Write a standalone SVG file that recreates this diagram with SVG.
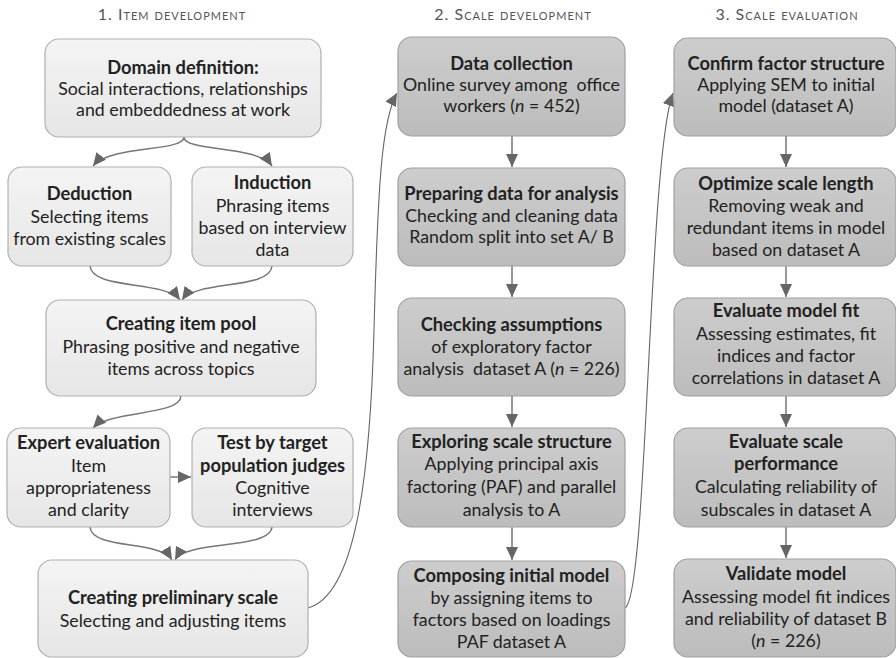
<svg xmlns="http://www.w3.org/2000/svg" width="896" height="658" viewBox="0 0 896 658">
  <defs>
    <linearGradient id="gLight" x1="0" y1="0" x2="0" y2="1">
      <stop offset="0" stop-color="#f4f4f4"/>
      <stop offset="1" stop-color="#e6e6e6"/>
    </linearGradient>
    <linearGradient id="gDark" x1="0" y1="0" x2="0" y2="1">
      <stop offset="0" stop-color="#cdcdcd"/>
      <stop offset="1" stop-color="#bcbcbc"/>
    </linearGradient>
    <marker id="arrow" markerUnits="userSpaceOnUse" markerWidth="14" markerHeight="12" refX="13" refY="6" orient="auto">
      <path d="M0,0 L13,6 L0,12 Z" fill="#666"/>
    </marker>
  </defs>
  <style>
    text { font-family: Lato, "Open Sans", "Liberation Sans", sans-serif; fill: #222; text-anchor: middle; }
    .head { font-size: 16px; fill: #555; font-variant: small-caps; letter-spacing: 1px; }
    .t { font-size: 18.3px; font-weight: bold; }
    .s { font-size: 17.8px; }
    .light { fill: url(#gLight); stroke: #b0b0b0; stroke-width: 1.2; }
    .dark { fill: url(#gDark); stroke: #a0a0a0; stroke-width: 1.2; }
    .conn { fill: none; stroke: #777; stroke-width: 1.5; marker-end: url(#arrow); }
    .long { fill: none; stroke: #666; stroke-width: 1.1; marker-end: url(#arrow); }
  </style>

  <!-- column headings -->
  <text class="head" x="172" y="20">1. Item development</text>
  <text class="head" x="513" y="20">2. Scale development</text>
  <text class="head" x="787" y="20">3. Scale evaluation</text>

  <!-- connectors -->
  <g id="connectors">
    <path class="conn" d="M184 137 C 184 152, 110 145, 93 166"/>
    <path class="conn" d="M184 137 C 184 152, 258 145, 272 166"/>
    <path class="conn" d="M90 266 C 92 290, 165 280, 180 300"/>
    <path class="conn" d="M272 266 C 270 290, 196 280, 182 300"/>
    <path class="conn" d="M181 396 C 180 416, 110 410, 93 428"/>
    <path class="conn" d="M170 477 L 191 477"/>
    <path class="conn" d="M90 527 C 92 550, 160 540, 172 560"/>
    <path class="conn" d="M272 527 C 270 550, 186 540, 175 560"/>
    <path class="long" d="M308 608 C 355 595, 370 480, 374 330 S 382 120, 397 93"/>
    <path class="long" d="M625 608 C 648 595, 648 160, 673 93"/>
    <path class="conn" d="M512 136 L 512 167"/>
    <path class="conn" d="M512 266 L 512 297"/>
    <path class="conn" d="M512 396 L 512 427"/>
    <path class="conn" d="M512 527 L 512 560"/>
    <path class="conn" d="M786 136 L 786 167"/>
    <path class="conn" d="M786 266 L 786 297"/>
    <path class="conn" d="M786 396 L 786 427"/>
    <path class="conn" d="M786 527 L 786 558"/>
  </g>

  <!-- 1. item development -->
  <g id="domain">
    <rect class="light" x="45" y="39" width="276" height="98" rx="14"/>
    <text class="t" x="183" y="74">Domain definition:</text>
    <text class="s" x="183" y="95">Social interactions, relationships</text>
    <text class="s" x="183" y="116">and embeddedness at work</text>
  </g>
  <g id="deduction">
    <rect class="light" x="8" y="167" width="163" height="99" rx="14"/>
    <text class="t" x="89.5" y="200">Deduction</text>
    <text class="s" x="89.5" y="223">Selecting items</text>
    <text class="s" x="89.5" y="245">from existing scales</text>
  </g>
  <g id="induction">
    <rect class="light" x="192" y="167" width="161" height="99" rx="14"/>
    <text class="t" x="272.5" y="189">Induction</text>
    <text class="s" x="272.5" y="212">Phrasing items</text>
    <text class="s" x="272.5" y="234">based on interview</text>
    <text class="s" x="272.5" y="256">data</text>
  </g>
  <g id="item-pool">
    <rect class="light" x="46" y="300" width="270" height="96" rx="14"/>
    <text class="t" x="181" y="330">Creating item pool</text>
    <text class="s" x="181" y="353">Phrasing positive and negative</text>
    <text class="s" x="181" y="375">items across topics</text>
  </g>
  <g id="expert">
    <rect class="light" x="7" y="428" width="163" height="99" rx="14"/>
    <text class="t" x="88.5" y="449">Expert evaluation</text>
    <text class="s" x="88.5" y="472">Item</text>
    <text class="s" x="88.5" y="494">appropriateness</text>
    <text class="s" x="88.5" y="516">and clarity</text>
  </g>
  <g id="target-test">
    <rect class="light" x="192" y="428" width="161" height="99" rx="14"/>
    <text class="t" x="272.5" y="449">Test by target</text>
    <text class="t" x="272.5" y="472">population judges</text>
    <text class="s" x="272.5" y="494">Cognitive</text>
    <text class="s" x="272.5" y="516">interviews</text>
  </g>
  <g id="preliminary">
    <rect class="light" x="38" y="560" width="270" height="97" rx="14"/>
    <text class="t" x="173" y="604">Creating preliminary scale</text>
    <text class="s" x="173" y="627">Selecting and adjusting items</text>
  </g>

  <!-- 2. scale development -->
  <g id="data-collection">
    <rect class="dark" x="398" y="37" width="227" height="99" rx="14"/>
    <text class="t" x="511.5" y="70">Data collection</text>
    <text class="s" x="511.5" y="91" xml:space="preserve">Online survey among  office</text>
    <text class="s" x="511.5" y="112">workers (<tspan font-style="italic">n</tspan> = 452)</text>
  </g>
  <g id="preparing">
    <rect class="dark" x="398" y="168" width="227" height="98" rx="14"/>
    <text class="t" x="511.5" y="200">Preparing data for analysis</text>
    <text class="s" x="511.5" y="222">Checking and cleaning data</text>
    <text class="s" x="511.5" y="243">Random split into set A/ B</text>
  </g>
  <g id="assumptions">
    <rect class="dark" x="398" y="298" width="227" height="98" rx="14"/>
    <text class="t" x="511.5" y="331">Checking assumptions</text>
    <text class="s" x="511.5" y="353">of exploratory factor</text>
    <text class="s" x="511.5" y="375" xml:space="preserve">analysis  dataset A (<tspan font-style="italic">n</tspan> = 226)</text>
  </g>
  <g id="exploring">
    <rect class="dark" x="398" y="428" width="227" height="99" rx="14"/>
    <text class="t" x="511.5" y="448">Exploring scale structure</text>
    <text class="s" x="511.5" y="470">Applying principal axis</text>
    <text class="s" x="511.5" y="493">factoring (PAF) and parallel</text>
    <text class="s" x="511.5" y="516">analysis to A</text>
  </g>
  <g id="composing">
    <rect class="dark" x="398" y="561" width="227" height="96" rx="14"/>
    <text class="t" x="511.5" y="582">Composing initial model</text>
    <text class="s" x="511.5" y="604">by assigning items to</text>
    <text class="s" x="511.5" y="626">factors based on loadings</text>
    <text class="s" x="511.5" y="648">PAF dataset A</text>
  </g>

  <!-- 3. scale evaluation -->
  <g id="confirm">
    <rect class="dark" x="674" y="38" width="222" height="98" rx="14"/>
    <text class="t" x="786" y="70">Confirm factor structure</text>
    <text class="s" x="786" y="91">Applying SEM to initial</text>
    <text class="s" x="786" y="112">model (dataset A)</text>
  </g>
  <g id="optimize">
    <rect class="dark" x="674" y="168" width="222" height="98" rx="14"/>
    <text class="t" x="786" y="190">Optimize scale length</text>
    <text class="s" x="786" y="212">Removing weak and</text>
    <text class="s" x="786" y="234">redundant items in model</text>
    <text class="s" x="786" y="256">based on dataset A</text>
  </g>
  <g id="model-fit">
    <rect class="dark" x="674" y="298" width="222" height="98" rx="14"/>
    <text class="t" x="786" y="317">Evaluate model fit</text>
    <text class="s" x="786" y="340">Assessing estimates, fit</text>
    <text class="s" x="786" y="362">indices and factor</text>
    <text class="s" x="786" y="384">correlations in dataset A</text>
  </g>
  <g id="performance">
    <rect class="dark" x="674" y="428" width="222" height="99" rx="14"/>
    <text class="t" x="786" y="448">Evaluate scale</text>
    <text class="t" x="786" y="470">performance</text>
    <text class="s" x="786" y="493">Calculating reliability of</text>
    <text class="s" x="786" y="516">subscales in dataset A</text>
  </g>
  <g id="validate">
    <rect class="dark" x="674" y="559" width="222" height="98" rx="14"/>
    <text class="t" x="786" y="580">Validate model</text>
    <text class="s" x="786" y="603">Assessing model fit indices</text>
    <text class="s" x="786" y="625">and reliability of dataset B</text>
    <text class="s" x="786" y="647">(<tspan font-style="italic">n</tspan> = 226)</text>
  </g>
</svg>
